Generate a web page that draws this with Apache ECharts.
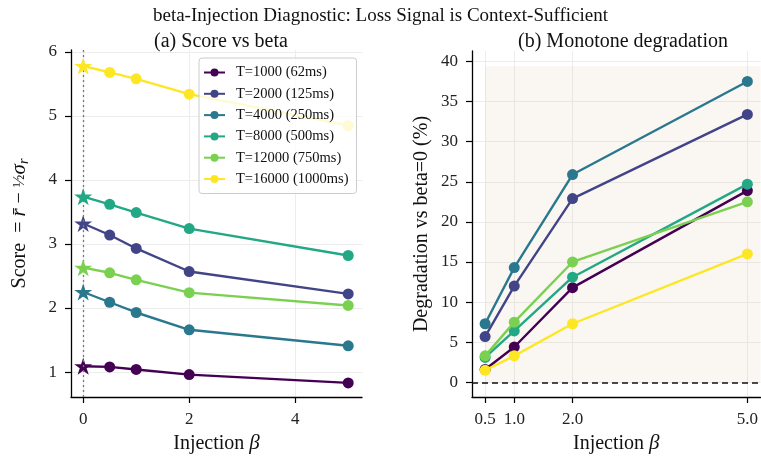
<!DOCTYPE html>
<html>
<head>
<meta charset="utf-8">
<script src="https://cdn.jsdelivr.net/npm/echarts@6/dist/echarts.min.js"></script>
<style>
  html, body { margin: 0; padding: 0; background: #fff; }
  #main { width: 761px; height: 460px; }
</style>
</head>
<body>
<div id="main"></div>
<script>
var FONT = '"Liberation Serif", "DejaVu Serif", serif';

// injection strengths
var betaLeft = [0, 0.5, 1, 2, 5];
var betaRight = [0.5, 1, 2, 5];

var names = ['T=1000 (62ms)', 'T=2000 (125ms)', 'T=4000 (250ms)',
  'T=8000 (500ms)', 'T=12000 (750ms)', 'T=16000 (1000ms)'];
var colors = ['#440154', '#414487', '#2a788e', '#22a884', '#7ad151', '#fde725'];

// (a) score per beta
var score1000 = [1.09, 1.08, 1.04, 0.96, 0.83];
var score2000 = [3.32, 3.14, 2.93, 2.57, 2.22];
var score4000 = [2.25, 2.09, 1.93, 1.66, 1.41];
var score8000 = [3.74, 3.62, 3.49, 3.24, 2.82];
var score12000 = [2.63, 2.55, 2.44, 2.24, 2.04];
var score16000 = [5.78, 5.68, 5.58, 5.34, 4.85];

// (b) degradation vs beta=0 (%)
var deg1000 = [1.6, 4.4, 11.8, 23.9];
var deg2000 = [5.7, 12.0, 22.9, 33.4];
var deg4000 = [7.3, 14.3, 25.9, 37.5];
var deg8000 = [3.1, 6.4, 13.1, 24.7];
var deg12000 = [3.3, 7.5, 15.0, 22.5];
var deg16000 = [1.5, 3.3, 7.3, 16.0];

var leftYTicks = [1, 2, 3, 4, 5, 6];
var leftXTicks = [0, 2, 4];
var rightYTicks = [0, 5, 10, 15, 20, 25, 30, 35, 40];
var rightXTicks = [0.5, 1, 2, 5];

var scores = [score1000, score2000, score4000, score8000, score12000, score16000];
var degs = [deg1000, deg2000, deg4000, deg8000, deg12000, deg16000];

var STAR = 'path://M0 -100 L22.45 -30.9 L95.1 -30.9 L36.3 11.8 L58.8 80.9 L0 38.2 L-58.8 80.9 L-36.3 11.8 L-95.1 -30.9 L-22.45 -30.9 Z';

var chart = echarts.init(document.getElementById('main'), null, { renderer: 'canvas' });

function axisCommon(ticks, fmt) {
  return {
    axisLine: { show: true, onZero: false, lineStyle: { color: '#000', width: 1.3 } },
    axisTick: { show: true, inside: false, length: 6, customValues: ticks, lineStyle: { color: '#000', width: 1.2 } },
    axisLabel: { customValues: ticks, color: '#222', fontFamily: FONT, fontSize: 17, margin: 14, formatter: fmt },
    splitLine: { show: true, lineStyle: { color: '#ececec', width: 1 } }
  };
}

var nameRich = {
  a: { fontFamily: FONT, fontSize: 20, color: '#111' },
  b: { fontFamily: FONT, fontSize: 21, fontStyle: 'italic', color: '#111' }
};

var series = [];
for (var i = 0; i < names.length; i++) {
  var pts = [];
  for (var j = 0; j < betaLeft.length; j++) {
    if (j === 0) {
      pts.push({ value: [betaLeft[j], scores[i][j]], symbol: STAR, symbolSize: 18, symbolKeepAspect: true });
    } else {
      pts.push([betaLeft[j], scores[i][j]]);
    }
  }
  var s = {
    name: names[i], type: 'line', xAxisIndex: 0, yAxisIndex: 0,
    data: pts, symbol: 'circle', symbolSize: 11,
    lineStyle: { width: 2.4, color: colors[i] },
    itemStyle: { color: colors[i] },
    emphasis: { disabled: true }, z: 3 + i
  };
  if (i === 0) {
    s.markLine = {
      silent: true, symbol: 'none', label: { show: false },
      lineStyle: { color: '#777', type: [2, 3], width: 1.3 },
      data: [{ xAxis: 0 }]
    };
  }
  series.push(s);
}
for (var k = 0; k < names.length; k++) {
  var pr = [];
  for (var m = 0; m < betaRight.length; m++) pr.push([betaRight[m], degs[k][m]]);
  var r = {
    name: names[k], type: 'line', xAxisIndex: 1, yAxisIndex: 1,
    data: pr, symbol: 'circle', symbolSize: 11,
    lineStyle: { width: 2.4, color: colors[k] },
    itemStyle: { color: colors[k] },
    emphasis: { disabled: true }, z: 3 + k
  };
  if (k === 0) {
    r.markArea = {
      silent: true,
      itemStyle: { color: 'rgba(220,190,165,0.14)' },
      data: [[{ xAxis: 0.5, yAxis: 0 }, { xAxis: 5.225, yAxis: 39.4 }]]
    };
    r.markLine = {
      silent: true, symbol: 'none', label: { show: false },
      lineStyle: { color: '#111', type: [6, 4], width: 1.5 },
      data: [{ yAxis: 0 }]
    };
  }
  series.push(r);
}

var option = {
  animation: false,
  backgroundColor: '#fff',
  textStyle: { fontFamily: FONT },
  title: [
    { text: 'beta-Injection Diagnostic: Loss Signal is Context-Sufficient', left: 'center', top: 2,
      textStyle: { fontFamily: FONT, fontSize: 19, fontWeight: 'normal', color: '#111' } },
    { text: '(a) Score vs beta', left: 216, top: 27, textAlign: 'center',
      textStyle: { fontFamily: FONT, fontSize: 20, fontWeight: 'normal', color: '#111' } },
    { text: '(b) Monotone degradation', left: 618, top: 27, textAlign: 'center',
      textStyle: { fontFamily: FONT, fontSize: 20, fontWeight: 'normal', color: '#111' } }
  ],
  legend: {
    data: names, orient: 'vertical', left: 199, top: 58, z: 30,
    itemWidth: 21, itemHeight: 10, itemGap: 6.3,
    backgroundColor: 'rgba(255,255,255,0.8)', borderColor: '#ccc', borderWidth: 1, borderRadius: 3,
    padding: [7, 8, 7, 4],
    textStyle: { fontFamily: FONT, fontSize: 14.5, lineHeight: 15, color: '#111', padding: [0, 0, 0, 6] }
  },
  grid: [
    { left: 71, top: 50, width: 291, height: 347 },
    { left: 472, top: 51, right: -3, height: 346 }
  ],
  xAxis: [
    Object.assign({ type: 'value', gridIndex: 0, min: -0.23, max: 5.26,
      name: '{a|Injection }{b|β}', nameLocation: 'middle', nameGap: 35,
      nameTextStyle: { rich: nameRich }
    }, axisCommon(leftXTicks)),
    Object.assign({ type: 'value', gridIndex: 1, min: 0.275, max: 5.225,
      name: '{a|Injection }{b|β}', nameLocation: 'middle', nameGap: 35,
      nameTextStyle: { rich: nameRich }
    }, axisCommon(rightXTicks, function (v) { return v.toFixed(1); }))
  ],
  yAxis: [
    Object.assign({ type: 'value', gridIndex: 0, min: 0.61, max: 6.03,
      name: '{a|Score  = }{i|r̄}{a| − }{f|½}{i|σ}{s|r}', nameLocation: 'middle', nameGap: 40,
      nameTextStyle: { rich: {
        a: { fontFamily: FONT, fontSize: 20, color: '#111' },
        i: { fontFamily: FONT, fontSize: 21, fontStyle: 'italic', color: '#111' },
        f: { fontFamily: FONT, fontSize: 17, color: '#111' },
        s: { fontFamily: FONT, fontSize: 14, fontStyle: 'italic', color: '#111', padding: [9, 0, 0, 0] }
      } }
    }, axisCommon(leftYTicks)),
    Object.assign({ type: 'value', gridIndex: 1, min: -1.83, max: 41.3,
      name: 'Degradation vs beta=0 (%)', nameLocation: 'middle', nameGap: 40,
      nameTextStyle: { fontFamily: FONT, fontSize: 20, color: '#111' }
    }, axisCommon(rightYTicks))
  ],
  series: series
};

chart.setOption(option);
</script>
</body>
</html>
